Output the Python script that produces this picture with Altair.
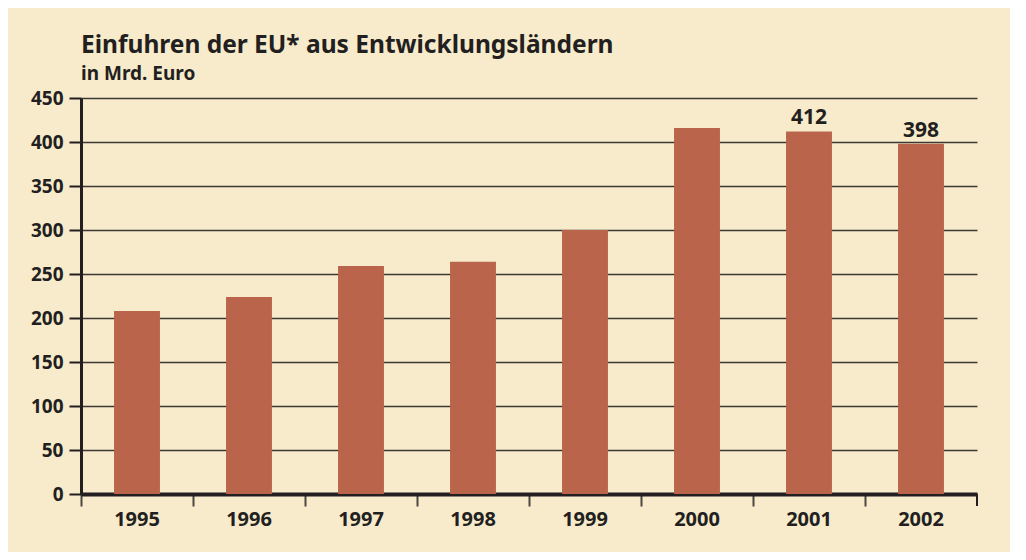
import altair as alt
import pandas as pd

years = ["1995", "1996", "1997", "1998", "1999", "2000", "2001", "2002"]
values = [208, 224, 259, 264, 300, 416, 412, 398]
labels = ["", "", "", "", "", "", "412", "398"]
y_ticks = [0, 50, 100, 150, 200, 250, 300, 350, 400, 450]

df = pd.DataFrame({"year": years, "value": values, "label": labels})

BG = "#F7EBCC"
BAR = "#B9644B"
INK = "#231F20"
FONT = "Noto Sans"

base = alt.Chart(df)

x = alt.X("year:N", sort=years, title=None,
          scale=alt.Scale(paddingInner=0, paddingOuter=0),
          axis=alt.Axis(labelAngle=0, bandPosition=0, tickSize=12, tickWidth=2,
                        tickColor="#4A4642", domainWidth=4, domainColor=INK,
                        labelFont=FONT, labelFontSize=20, labelFontWeight="bold",
                        labelColor=INK, labelPadding=3))
y = alt.Y("value:Q", title=None,
          scale=alt.Scale(domain=[0, 450], nice=False),
          axis=alt.Axis(values=y_ticks, tickSize=12, tickWidth=2, tickColor=INK,
                        domainWidth=3, domainColor=INK,
                        grid=True, gridColor="#3C3836", gridWidth=1.5,
                        labelFont=FONT, labelFontSize=19, labelFontWeight="bold",
                        labelColor=INK, labelPadding=6))

bars = base.mark_bar(color=BAR, width=alt.RelativeBandSize(0.41)).encode(x=x, y=y)

text = base.mark_text(baseline="bottom", dy=-3, font=FONT, fontSize=21,
                      fontWeight="bold", color=INK).encode(
    x=alt.X("year:N", sort=years), y="value:Q", text="label:N")

end_tick = alt.Chart(pd.DataFrame({"a": [0]})).mark_rule(color=INK, strokeWidth=2).encode(
    x=alt.value(896), y=alt.value(396), y2=alt.value(408))

chart = alt.layer(bars, text, end_tick).properties(
    width=896, height=396,
    background=BG,
    padding={"left": 73, "top": 90, "right": 33, "bottom": 58},
    autosize=alt.AutoSizeParams(type="none"),
    title=alt.TitleParams(
        text="Einfuhren der EU* aus Entwicklungsländern",
        subtitle="in Mrd. Euro",
        anchor="start", frame="group", offset=4,
        font=FONT, fontSize=24.5, fontWeight="bold", color=INK,
        subtitleFont=FONT, subtitleFontSize=19, subtitleFontWeight="bold",
        subtitleColor=INK, subtitlePadding=7),
).configure_view(stroke=None)

chart.save("out.html", embed_options={"renderer": "svg", "actions": False})
